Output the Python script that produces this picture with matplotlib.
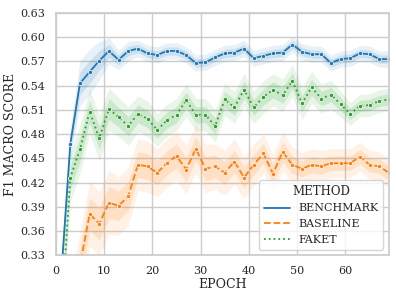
import numpy as np
import matplotlib.pyplot as plt
import seaborn as sns

sns.set_theme(style="whitegrid", font="serif")
plt.rcParams['font.family'] = ['DejaVu Serif']

# epochs (every 2nd epoch logged)
epochs = list(range(1, 70, 2))

benchmark = [0.295, 0.468, 0.543, 0.557, 0.571, 0.583, 0.572, 0.583, 0.586, 0.580,
             0.578, 0.583, 0.583, 0.578, 0.568, 0.569, 0.575, 0.580, 0.581, 0.586,
             0.574, 0.577, 0.580, 0.581, 0.591, 0.582, 0.579, 0.579, 0.568, 0.573,
             0.574, 0.580, 0.579, 0.573, 0.573]
baseline = [0.200, 0.260, 0.317, 0.381, 0.369, 0.395, 0.391, 0.403, 0.442, 0.440,
            0.432, 0.444, 0.453, 0.436, 0.462, 0.437, 0.440, 0.432, 0.446, 0.426,
            0.442, 0.456, 0.431, 0.458, 0.442, 0.437, 0.442, 0.440, 0.444, 0.444,
            0.444, 0.452, 0.442, 0.440, 0.432]
faket = [0.243, 0.426, 0.461, 0.508, 0.475, 0.511, 0.501, 0.490, 0.505, 0.499,
         0.485, 0.497, 0.504, 0.522, 0.504, 0.504, 0.490, 0.523, 0.513, 0.535,
         0.513, 0.526, 0.535, 0.528, 0.546, 0.518, 0.538, 0.524, 0.529, 0.517,
         0.505, 0.515, 0.516, 0.521, 0.523]

# half-width of the spread band around each curve
benchmark_sd = [0.010, 0.010, 0.014, 0.014, 0.012, 0.008, 0.006, 0.006, 0.005, 0.005,
                0.005, 0.005, 0.005, 0.005, 0.005, 0.005, 0.005, 0.005, 0.005, 0.005,
                0.005, 0.005, 0.005, 0.005, 0.005, 0.005, 0.005, 0.005, 0.005, 0.005,
                0.005, 0.005, 0.005, 0.005, 0.005]
baseline_sd = [0.020, 0.020, 0.020, 0.020, 0.020, 0.020, 0.018, 0.018, 0.016, 0.016,
               0.015, 0.015, 0.015, 0.015, 0.015, 0.015, 0.014, 0.014, 0.014, 0.013,
               0.013, 0.012, 0.012, 0.012, 0.011, 0.010, 0.010, 0.010, 0.009, 0.009,
               0.009, 0.009, 0.009, 0.009, 0.009]
faket_sd = [0.015, 0.015, 0.015, 0.014, 0.014, 0.013, 0.012, 0.012, 0.011, 0.011,
            0.010, 0.010, 0.010, 0.010, 0.010, 0.010, 0.010, 0.010, 0.010, 0.010,
            0.010, 0.010, 0.010, 0.010, 0.010, 0.010, 0.010, 0.009, 0.009, 0.008,
            0.007, 0.007, 0.007, 0.007, 0.007]

methods = ["BENCHMARK", "BASELINE", "FAKET"]
values = [benchmark, baseline, faket]
spreads = [benchmark_sd, baseline_sd, faket_sd]
colors = ["#1f77b4", "#ff7f0e", "#2ca02c"]
styles = ["-", "--", ":"]

fig, ax = plt.subplots(figsize=(3.96, 2.97), dpi=100)
fig.subplots_adjust(left=0.141, right=0.982, top=0.956, bottom=0.141)

x = np.array(epochs)
for name, v, sd, c, ls in zip(methods, values, spreads, colors, styles):
    v = np.array(v)
    sd = np.array(sd)
    ax.fill_between(x, v - 2 * sd, v + 2 * sd, color=c, alpha=0.1, lw=0)
    ax.fill_between(x, v - sd, v + sd, color=c, alpha=0.15, lw=0)
    ax.plot(x, v, color=c, ls=ls, lw=1.3, marker="o", ms=3,
            mec="white", mew=0.5, label=name)

ax.set_xlim(0, 69)
ax.set_ylim(0.33, 0.63)
ax.set_yticks(np.arange(0.33, 0.631, 0.03))
ax.set_yticklabels([f"{t:.2f}" for t in np.arange(0.33, 0.631, 0.03)])
ax.set_xticks([0, 10, 20, 30, 40, 50, 60])
ax.tick_params(labelsize=8, pad=2)
ax.set_xlabel("EPOCH", fontsize=9, labelpad=1)
ax.set_ylabel("F1 MACRO SCORE", fontsize=9, labelpad=2)

handles = [plt.Line2D([], [], color=c, ls=ls, lw=1.3) for c, ls in zip(colors, styles)]
leg = ax.legend(handles, methods, title="METHOD", loc="lower right", fontsize=8,
                title_fontsize=8.5, handlelength=2.4, borderpad=0.45,
                labelspacing=0.5, handletextpad=0.7)

fig.savefig("out.png", dpi=100)
